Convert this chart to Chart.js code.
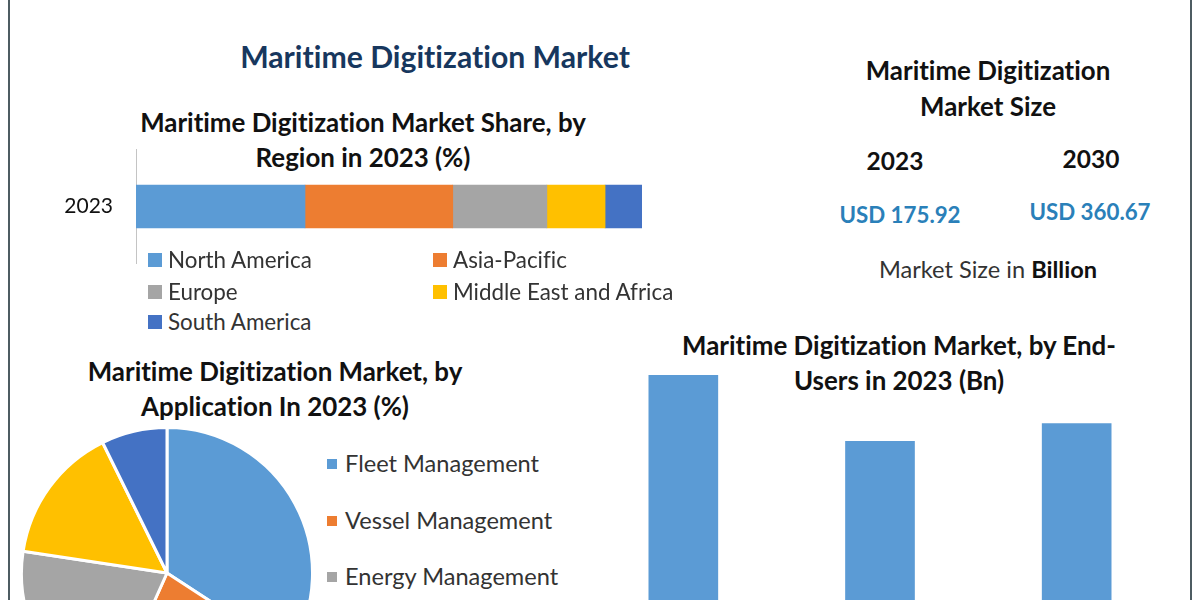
<!DOCTYPE html>
<html>
<head>
<meta charset="utf-8">
<title>Maritime Digitization Market</title>
<script src="https://cdn.jsdelivr.net/npm/chart.js@4/dist/chart.umd.min.js"></script>
<style>
    html, body { margin: 0; padding: 0; background: #fff; }
    body { position: relative; width: 1200px; height: 600px; overflow: hidden; font-family: Lato, sans-serif; color: #111; font-variant-ligatures: none; }
    canvas { position: absolute; }
    .frame { position: absolute; top: 0; width: 2px; height: 600px; background: #4d5c62; }
    .t { position: absolute; white-space: nowrap; transform: translate(-50%, -50%); }
    .main { font-size: 30.2px; font-weight: 700; color: #17375e; }
    .head { font-size: 25.9px; font-weight: 700; }
    .year { font-size: 24.5px; font-weight: 700; }
    .usd { font-size: 22.3px; font-weight: 700; color: #2a80b9; }
    .note { font-size: 23.6px; color: #333; }
    .item { position: absolute; white-space: nowrap; color: #333; transform: translateY(-50%); }
    .box { position: absolute; transform: translateY(-50%); }
</style>
</head>
<body>
<div class="frame" style="left:8px"></div>
<div class="frame" style="left:1190px"></div>

<div class="t main" style="left:435px;top:56px">Maritime Digitization Market</div>

<div class="t head" style="left:363px;top:122px">Maritime Digitization Market Share, by</div>
<div class="t head" style="left:363px;top:157px">Region in 2023 (%)</div>

<div class="t head" style="left:988px;top:70px">Maritime Digitization</div>
<div class="t head" style="left:988px;top:106px">Market Size</div>
<div class="t year" style="left:895px;top:160px">2023</div>
<div class="t year" style="left:1091px;top:158px">2030</div>
<div class="t usd" style="left:900px;top:214px">USD 175.92</div>
<div class="t usd" style="left:1090px;top:211px">USD 360.67</div>
<div class="t note" style="left:988px;top:269px">Market Size in <b style="color:#111">Billion</b></div>

<div class="t head" style="left:275px;top:371px">Maritime Digitization Market, by</div>
<div class="t head" style="left:275px;top:406px">Application In 2023 (%)</div>

<div class="t head" style="left:899px;top:345px">Maritime Digitization Market, by End-</div>
<div class="t head" style="left:899px;top:380px">Users in 2023 (Bn)</div>

<!-- taller than the plot: the y scale insets the chart area by its label height + tick padding -->
<canvas id="regionChart" width="607" height="185" style="left:35px;top:114px"></canvas>
<canvas id="appChart" width="294" height="294" style="left:20px;top:426px"></canvas>
<canvas id="endUserChart" width="590" height="238" style="left:585px;top:368px"></canvas>

<script>
const BLUE = "#5b9bd5";
const ORANGE = "#ed7d31";
const GREY = "#a5a5a5";
const YELLOW = "#ffc000";
const DARK_BLUE = "#4472c4";

const regionYears = ["2023"];
const regionNames = ["North America", "Asia-Pacific", "Europe", "Middle East and Africa", "South America"];
const regionShares = [33.4, 29.2, 18.6, 11.5, 7.3];
const regionColors = [BLUE, ORANGE, GREY, YELLOW, DARK_BLUE];

// the last two names are cut off by the bottom of the picture
const appNames = ["Fleet Management", "Vessel Management", "Energy Management", "", ""];
const appShares = [34.2, 22.5, 20.7, 15.3, 7.3];
const appColors = [BLUE, ORANGE, GREY, YELLOW, DARK_BLUE];

// the category names sit below the bottom of the picture as well
const endUserNames = ["", "", ""];
const endUserValues = [69.8, 49.8, 55.2];

const FONT = "Lato, sans-serif";

function addLegendItem(name, color, boxLeft, boxSize, textLeft, y, fontSize) {
    var box = document.createElement("div");
    box.className = "box";
    box.style.cssText = "left:" + boxLeft + "px;top:" + y + "px;width:" + boxSize + "px;height:" + boxSize + "px;background:" + color;
    document.body.appendChild(box);

    var item = document.createElement("div");
    item.className = "item";
    item.style.cssText = "left:" + textLeft + "px;top:" + (y - 1) + "px;font-size:" + fontSize + "px";
    item.textContent = name;
    document.body.appendChild(item);
}

function initRegionChart() {
    new Chart(document.getElementById("regionChart"), {
        type: "bar",
        data: {
            labels: regionYears,
            datasets: regionNames.map((name, i) => ({
                label: name,
                data: [regionShares[i]],
                backgroundColor: regionColors[i],
                barThickness: 43,
            })),
        },
        options: {
            indexAxis: "y",
            responsive: false,
            animation: false,
            plugins: { legend: { display: false }, tooltip: { enabled: false } },
            scales: {
                x: { stacked: true, min: 0, max: 100, display: false },
                y: {
                    stacked: true,
                    // leaves room for the year so the plot starts where the bar does
                    afterFit: scale => { scale.width = 101; },
                    grid: { display: true, drawOnChartArea: false, drawTicks: false },
                    border: { display: true, color: "#c4c4c4", width: 1 },
                    ticks: { color: "#111", padding: 23, font: { family: FONT, size: 21 } },
                },
            },
        },
    });
}

function initAppChart() {
    new Chart(document.getElementById("appChart"), {
        type: "pie",
        data: {
            labels: appNames,
            datasets: [{
                data: appShares,
                backgroundColor: appColors,
                borderColor: "#fff",
                borderWidth: 3,
            }],
        },
        options: {
            responsive: false,
            animation: false,
            plugins: { legend: { display: false }, tooltip: { enabled: false } },
        },
    });
}

function initEndUserChart() {
    new Chart(document.getElementById("endUserChart"), {
        type: "bar",
        data: {
            labels: endUserNames,
            datasets: [{ data: endUserValues, backgroundColor: BLUE, barThickness: 69 }],
        },
        options: {
            responsive: false,
            animation: false,
            plugins: { legend: { display: false }, tooltip: { enabled: false } },
            scales: {
                x: { display: false },
                y: { min: 0, max: 72, display: false },
            },
        },
    });
}

initRegionChart();
initAppChart();
initEndUserChart();

// region legend: two columns, three rows
const regionRows = [260, 260, 292, 292, 322];
regionNames.forEach((name, i) => {
    var left = i % 2 == 0 ? 148 : 433;
    addLegendItem(name, regionColors[i], left, 14, left + 20, regionRows[i], 22.4);
});

// application legend: only the names still inside the picture
const appRows = [464, 521, 577];
appRows.forEach((y, i) => {
    addLegendItem(appNames[i], appColors[i], 327, 10, 345, y, 23.6);
});
</script>
</body>
</html>
